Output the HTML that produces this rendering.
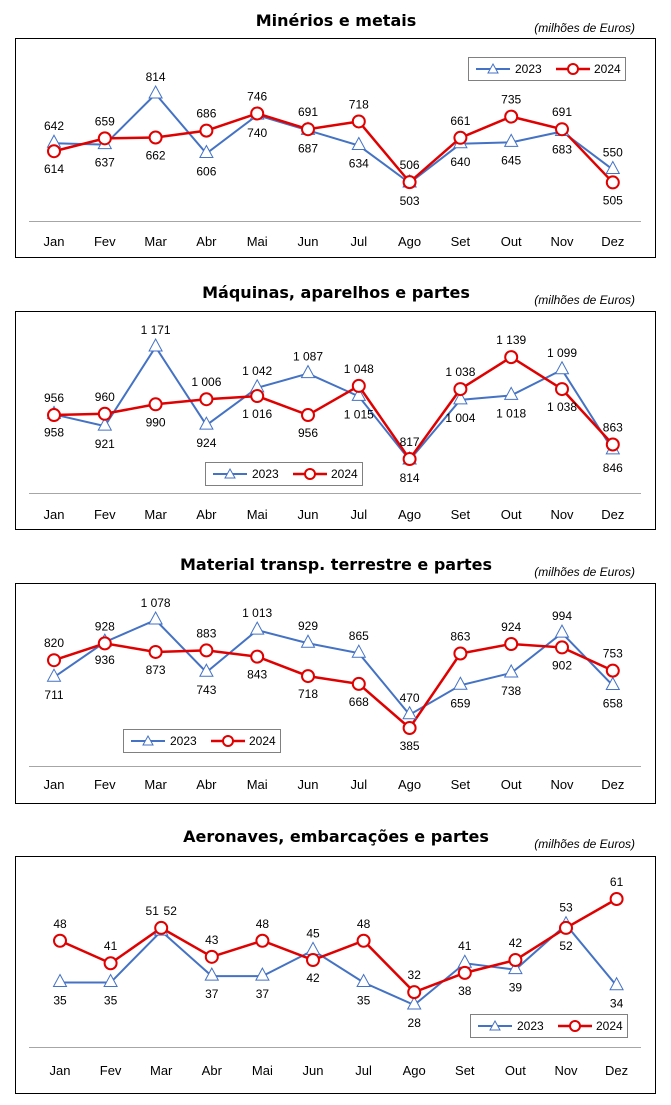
<!DOCTYPE html>
<html><head><meta charset="utf-8">
<style>
body{margin:0;background:#fff;width:671px;height:1105px;overflow:hidden;font-family:"Liberation Sans",sans-serif;}
svg{display:block}
</style></head>
<body>
<svg id="c" width="671" height="1105" xmlns="http://www.w3.org/2000/svg"></svg>
<script>
const months = ["Jan","Fev","Mar","Abr","Mai","Jun","Jul","Ago","Set","Out","Nov","Dez"];
const titles = ["Minérios e metais","Máquinas, aparelhos e partes","Material transp. terrestre e partes","Aeronaves, embarcações e partes"];
const s2023_minerios = [642,637,814,606,740,687,634,503,640,645,683,550];
const s2024_minerios = [614,659,662,686,746,691,718,506,661,735,691,505];
const s2023_maquinas = [958,921,1171,924,1042,1087,1015,814,1004,1018,1099,846];
const s2024_maquinas = [956,960,990,1006,1016,956,1048,817,1038,1139,1038,863];
const s2023_transp = [711,936,1078,743,1013,929,865,470,659,738,994,658];
const s2024_transp = [820,928,873,883,843,718,668,385,863,924,902,753];
const s2023_aero = [35,35,51,37,37,45,35,28,41,39,53,34];
const s2024_aero = [48,41,52,43,48,42,48,32,38,42,52,61];

const svg = document.getElementById('c');
const NS = "http://www.w3.org/2000/svg";
function mk(tag, attrs, parent){const e=document.createElementNS(NS,tag);for(const k in attrs)e.setAttribute(k,attrs[k]);(parent||svg).appendChild(e);return e;}
function fmt(v){return String(v).replace(/\B(?=(\d{3})+(?!\d))/g," ");}

const panels = [
 {a:s2023_minerios,b:s2024_minerios,title:20,boxT:38,boxB:257,axis:221,lab:241,x0:54,dx:50.8,vHi:814,yHi:94,vLo:503,yLo:183,leg:[468,57],name:"minerios",flip:[],side:[]},
 {a:s2023_maquinas,b:s2024_maquinas,title:292,boxT:311,boxB:529,axis:493,lab:514,x0:54,dx:50.8,vHi:1171,yHi:347,vLo:814,yLo:460,leg:[205,462],name:"maquinas",flip:[0],side:[]},
 {a:s2023_transp,b:s2024_transp,title:564,boxT:583,boxB:803,axis:766,lab:784,x0:54,dx:50.8,vHi:1078,yHi:620,vLo:385,yLo:728,leg:[123,729],name:"transportes",flip:[1],side:[]},
 {a:s2023_aero,b:s2024_aero,title:836,boxT:856,boxB:1093,axis:1047,lab:1070,x0:60,dx:50.6,vHi:61,yHi:899,vLo:28,yLo:1005,leg:[470,1014],name:"aeronaves",flip:[],side:[2]}
];
const BLUE="#4472C4", RED="#E00000";

panels.forEach((p,pi)=>{
  const g=mk('g',{});
  
  
  const t=mk('text',{x:336,y:p.title+6,'text-anchor':'middle','font-size':16,'font-weight':'bold','font-family':'"DejaVu Sans",sans-serif',fill:'#000'},g);
  t.textContent=titles[pi];
  
  
  const u=mk('text',{x:635,y:p.title+12,'text-anchor':'end','font-size':12,'font-style':'italic',fill:'#000'},g);
  u.textContent="(milhões de Euros)";
  
  
  const box=mk('rect',{x:15.5,y:p.boxT+0.5,width:640,height:p.boxB-p.boxT,fill:'none',stroke:'#000','stroke-width':1},g);
  
  
  const ax=mk('line',{x1:29,x2:641,y1:p.axis+0.5,y2:p.axis+0.5,stroke:'#a6a6a6'},g);
  
  
  const X=i=>p.x0+i*p.dx;
  const sc=(p.yLo-p.yHi)/(p.vHi-p.vLo);
  const Y=v=>p.yLo-(v-p.vLo)*sc;
  months.forEach((m,i)=>{
    const tl=mk('text',{x:X(i),y:p.lab+5,'text-anchor':'middle','font-size':13,fill:'#000'},g);
    tl.textContent=m;
    
    
  });
  const la=mk('polyline',{points:p.a.map((v,i)=>X(i)+','+Y(v)).join(' '),fill:'none',stroke:BLUE,'stroke-width':2},g);
  
  
  const lb=mk('polyline',{points:p.b.map((v,i)=>X(i)+','+Y(v)).join(' '),fill:'none',stroke:RED,'stroke-width':2.5},g);
  
  
  p.a.forEach((v,i)=>{
    const x=X(i),y=Y(v);
    const tr=mk('polygon',{points:`${x},${y-8} ${x+6.5},${y+4} ${x-6.5},${y+4}`,fill:'#fff',stroke:BLUE,'stroke-width':1},g);
    
    
  });
  p.b.forEach((v,i)=>{
    const c=mk('circle',{cx:X(i),cy:Y(v),r:6,fill:'#fff',stroke:RED,'stroke-width':2},g);
    
    
  });
  p.a.forEach((va,i)=>{
    const vb=p.b[i];
    if(p.side.includes(i)){
      [[va,-9,'2023'],[vb,9,'2024']].forEach(([v,off,s])=>{
        const tx=mk('text',{x:X(i)+off,y:Y(Math.max(va,vb))-13,'text-anchor':'middle','font-size':12,fill:'#000'},g);
        tx.textContent=fmt(v);
        
        
      });
      return;
    }
    let aAbove = va>=vb;
    if(p.flip.includes(i)) aAbove=!aAbove;
    [[va,aAbove,'2023'],[vb,!aAbove,'2024']].forEach(([v,above,s])=>{
      const y=Y(v)+(above?-13:22);
      const tx=mk('text',{x:X(i),y:y,'text-anchor':'middle','font-size':12,fill:'#000'},g);
      tx.textContent=fmt(v);
      
      
    });
  });
  const [lx,ly]=p.leg;
  const lg=mk('g',{},g);
  
  
  mk('rect',{x:lx+0.5,y:ly+0.5,width:157,height:23,fill:'#fff',stroke:'#808080'},lg);
  mk('line',{x1:lx+8,x2:lx+42,y1:ly+12,y2:ly+12,stroke:BLUE,'stroke-width':2},lg);
  mk('polygon',{points:`${lx+25},${ly+7} ${lx+30},${ly+16} ${lx+20},${ly+16}`,fill:'#fff',stroke:BLUE},lg);
  const t1=mk('text',{x:lx+47,y:ly+16,'font-size':12},lg); t1.textContent="2023";
  
  
  mk('line',{x1:lx+88,x2:lx+122,y1:ly+12,y2:ly+12,stroke:RED,'stroke-width':2.5},lg);
  mk('circle',{cx:lx+105,cy:ly+12,r:5,fill:'#fff',stroke:RED,'stroke-width':2},lg);
  const t2=mk('text',{x:lx+126,y:ly+16,'font-size':12},lg); t2.textContent="2024";
  
  
});
</script>
</body></html>
